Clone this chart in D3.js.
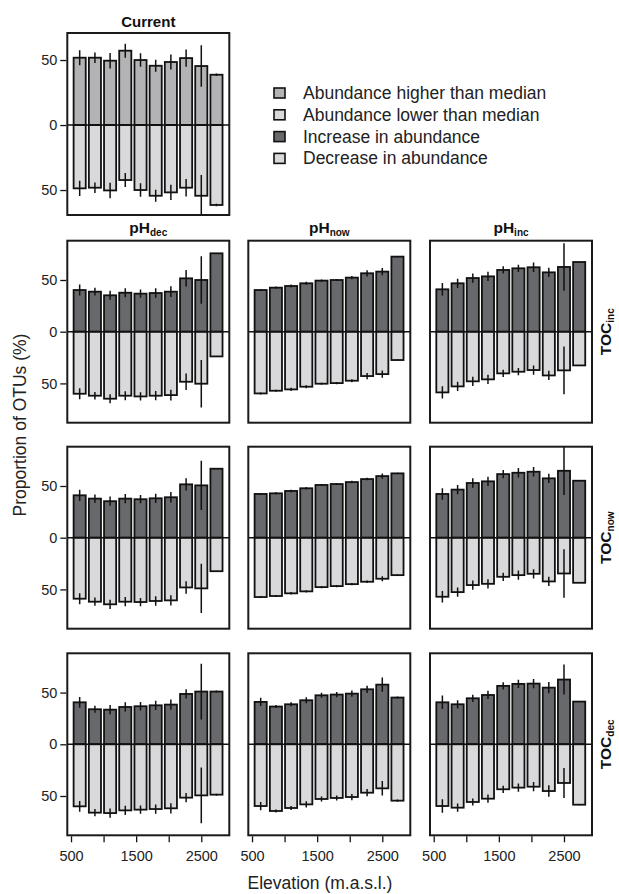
<!DOCTYPE html>
<html><head><meta charset="utf-8">
<script src="https://cdn.jsdelivr.net/npm/d3@7"></script>
<style>body{margin:0;background:#fff}svg{display:block;font-family:"Liberation Sans",Arial,Helvetica,sans-serif}</style>
</head><body><svg id="c" width="619" height="894"></svg>
<script>
const elevations = [633, 867, 1100, 1333, 1567, 1800, 2033, 2267, 2500, 2733];
const xTicks = [500, 1000, 1500, 2000, 2500];
const xTickLabels = ["500", "", "1500", "", "2500"];
const yTicks = [-50, 0, 50];

const currentHigher = [51.8, 51.8, 49.5, 57.2, 50, 45.6, 48.5, 51.5, 45.4, 38.7];
const currentLower  = [48.7, 48.2, 50.3, 42.3, 50, 54.4, 51.8, 48.2, 54.4, 61.5];
const currentErr    = [5.8, 4, 6, 5.4, 5.2, 4.7, 5.8, 6.7, 16, 1];

const colLabels = [["pH","dec"],["pH","now"],["pH","inc"]];
const rowLabels = [["TOC","inc"],["TOC","now"],["TOC","dec"]];

// increase / decrease / error per panel (row: TOC, col: pH)
const incTOCincPHdec = [40.3,38.7,35.2,37.7,36.8,37.4,38.7,51.6,50,75.8];
const decTOCincPHdec = [60,61.9,64.8,61.9,62.6,61.9,61.3,48.4,50.3,23.9];
const errTOCincPHdec = [5.3,3.7,4.4,4.4,4,4.5,5.2,8,23,0];
const incTOCincPHnow = [40.3,42.6,44.2,46.8,49.4,50,52.3,56.5,58.1,72.6];
const decTOCincPHnow = [59.7,57.1,55.8,53.2,50.3,49.7,47.4,42.9,41,27.4];
const errTOCincPHnow = [1,1,1.5,1.5,1,1,1.5,3,3.5,0.5];
const incTOCincPHinc = [41,46.8,51.9,53.5,59.7,61.3,62.3,57.4,62.6,67.4];
const decTOCincPHinc = [58.7,52.9,48,46.1,40.3,38.7,37.1,42.3,37.4,32.6];
const errTOCincPHinc = [6,4.5,4.5,4.5,3.5,3.5,4.5,4.5,23,0];
const incTOCnowPHdec = [41,37.8,35.3,37.8,37.2,38.1,39.1,51.6,50.6,66.7];
const decTOCnowPHdec = [59,61.9,64.4,61.9,62.2,61.2,60.6,48.1,49,32.4];
const errTOCnowPHdec = [5.4,4,4.5,4.5,4,4.5,5,6,23.7,0];
const incTOCnowPHnow = [42.3,42.9,45.2,47.8,51,51.9,53.8,56.7,59.6,62.2];
const decTOCnowPHnow = [57.4,56.4,53.8,51.9,47.8,46.8,44.9,42.6,39.7,36.2];
const errTOCnowPHnow = [1,1,1.2,1.2,1,1,1.2,1.2,2.5,0.5];
const incTOCnowPHinc = [42.3,46.5,52.9,54.5,61.5,62.8,63.8,57.4,64.7,55.1];
const decTOCnowPHinc = [57.1,52.6,45.8,44.6,37.8,36.2,34.9,42.3,34.6,43.6];
const errTOCnowPHinc = [5.6,4.5,4.5,4.5,4,4.5,4.5,4.5,23.4,0];
const incTOCdecPHdec = [40.6,33.9,33.5,36.1,36.8,37.7,38.4,48.7,51,51];
const decTOCdecPHdec = [60,66.1,66.5,63.9,63.2,62.6,61.9,51.6,49.4,48.7];
const errTOCdecPHdec = [5.2,3.5,4.5,4.5,4,4.5,5,4.5,27,1];
const incTOCdecPHnow = [41,36.5,38.7,42.6,47.4,48.1,49,53.2,57.7,45.2];
const decTOCdecPHnow = [59.7,64.5,61.6,58.1,52.9,51.9,51,46.8,42.6,54.5];
const errTOCdecPHnow = [4,1.5,2,3,2.5,2.5,3,3.5,7,1];
const incTOCdecPHinc = [40.6,38.7,44.5,47.7,56.5,58.4,58.7,54.8,62.6,41.3];
const decTOCdecPHinc = [59.7,61.3,55.8,52.6,43.5,41.9,41,45.2,37.4,58.4];
const errTOCdecPHinc = [6.5,4,3.5,4,3.5,4,4.5,5.5,14.5,0.5];

const legendLabels = ["Abundance higher than median","Abundance lower than median","Increase in abundance","Decrease in abundance"];
const legendColors = ["#b3b3b5","#d9d9db","#68696c","#d9d9db"];

const grid = [
  [[incTOCincPHdec,decTOCincPHdec,errTOCincPHdec],[incTOCincPHnow,decTOCincPHnow,errTOCincPHnow],[incTOCincPHinc,decTOCincPHinc,errTOCincPHinc]],
  [[incTOCnowPHdec,decTOCnowPHdec,errTOCnowPHdec],[incTOCnowPHnow,decTOCnowPHnow,errTOCnowPHnow],[incTOCnowPHinc,decTOCnowPHinc,errTOCnowPHinc]],
  [[incTOCdecPHdec,decTOCdecPHdec,errTOCdecPHdec],[incTOCdecPHnow,decTOCdecPHnow,errTOCdecPHnow],[incTOCdecPHinc,decTOCdecPHinc,errTOCdecPHinc]]
];

const svg = d3.select("#c");
const W = 162, H = 182;
const colX = [67.3, 248.3, 430];
const rowY = [240.7, 446.7, 653.3];
const barW = 186;
let clipId = 0;

function panel(x0, y0, h, ydom, up, down, err, upCol, downCol, opts) {
  const g = svg.append("g");
  const x = d3.scaleLinear().domain([443, 2930]).range([x0, x0 + W]);
  const y = d3.scaleLinear().domain(ydom).range([y0 + h, y0]);
  const id = "clip" + (clipId++);
  svg.append("clipPath").attr("id", id).append("rect")
    .attr("x", x0).attr("y", y0).attr("width", W).attr("height", h);
  const inner = g.append("g").attr("clip-path", `url(#${id})`);
  const bw = x(barW) - x(0);
  inner.selectAll(".up").data(up).join("rect")
    .attr("x", (d, i) => x(elevations[i]) - bw / 2).attr("width", bw)
    .attr("y", d => y(d)).attr("height", d => y(0) - y(d))
    .attr("fill", upCol).attr("stroke", "#111").attr("stroke-width", 1.8);
  inner.selectAll(".dn").data(down).join("rect")
    .attr("x", (d, i) => x(elevations[i]) - bw / 2).attr("width", bw)
    .attr("y", y(0)).attr("height", d => y(-d) - y(0))
    .attr("fill", downCol).attr("stroke", "#111").attr("stroke-width", 1.8);
  inner.selectAll(".eu").data(up).join("line")
    .attr("x1", (d, i) => x(elevations[i])).attr("x2", (d, i) => x(elevations[i]))
    .attr("y1", (d, i) => y(d - err[i])).attr("y2", (d, i) => y(d + err[i]))
    .attr("stroke", "#111").attr("stroke-width", 1.5);
  inner.selectAll(".ed").data(down).join("line")
    .attr("x1", (d, i) => x(elevations[i])).attr("x2", (d, i) => x(elevations[i]))
    .attr("y1", (d, i) => y(-d + err[i])).attr("y2", (d, i) => y(-d - err[i]))
    .attr("stroke", "#111").attr("stroke-width", 1.5);
  g.append("line").attr("x1", x0).attr("x2", x0 + W).attr("y1", y(0)).attr("y2", y(0))
    .attr("stroke", "#111").attr("stroke-width", 1.6);
  g.append("rect").attr("x", x0).attr("y", y0).attr("width", W).attr("height", h)
    .attr("fill", "none").attr("stroke", "#1a1a1a").attr("stroke-width", 2);
  if (opts.yAxis) {
    const ax = d3.axisLeft(y).tickValues(yTicks).tickSize(6).tickPadding(3)
      .tickFormat(d => Math.abs(d));
    const a = g.append("g").attr("transform", `translate(${x0 - 1},0)`).call(ax);
    a.select(".domain").remove();
    a.selectAll("line").attr("stroke", "#111").attr("stroke-width", 1.3);
    a.selectAll("text").attr("font-size", 14.5).attr("fill", "#222").attr("font-family", "Liberation Sans, Arial, sans-serif");
  }
  if (opts.xAxis) {
    const ax = d3.axisBottom(x).tickValues(xTicks).tickSize(6).tickPadding(8)
      .tickFormat((d, i) => xTickLabels[i]);
    const a = g.append("g").attr("transform", `translate(0,${y0 + h + 1})`).call(ax);
    a.select(".domain").remove();
    a.selectAll("line").attr("stroke", "#111").attr("stroke-width", 1.3);
    a.selectAll("text").attr("font-size", 14.5).attr("fill", "#222").attr("font-family", "Liberation Sans, Arial, sans-serif");
  }
}

// Current panel
panel(67.3, 33, 182, [-69.2, 70.8], currentHigher, currentLower, currentErr, legendColors[0], legendColors[1], {yAxis: true});
svg.append("text").attr("x", 67.3 + W / 2).attr("y", 27).attr("text-anchor", "middle")
  .attr("font-weight", "bold").attr("font-size", 15).attr("fill", "#111").text("Current");

for (let r = 0; r < 3; r++) {
  for (let c = 0; c < 3; c++) {
    const [inc, dec, err] = grid[r][c];
    panel(colX[c], rowY[r], H, [-88, 88], inc, dec, err, legendColors[2], legendColors[3],
      {yAxis: c === 0, xAxis: r === 2});
  }
}

// column titles
colLabels.forEach((l, c) => {
  const t = svg.append("text").attr("x", colX[c] + W / 2).attr("y", 232.5)
    .attr("text-anchor", "middle").attr("font-weight", "bold").attr("fill", "#111");
  t.append("tspan").attr("font-size", 15.5).text(l[0]);
  t.append("tspan").attr("font-size", 10).attr("dy", 3).text(l[1]);
});
// row labels
rowLabels.forEach((l, r) => {
  const t = svg.append("text")
    .attr("transform", `translate(611,${rowY[r] + H / 2}) rotate(-90)`)
    .attr("text-anchor", "middle").attr("font-weight", "bold").attr("fill", "#111");
  t.append("tspan").attr("font-size", 15.5).text(l[0]);
  t.append("tspan").attr("font-size", 10).attr("dy", 3).text(l[1]);
});

// legend
const lg = svg.append("g");
legendLabels.forEach((l, i) => {
  const cy = 93 + i * 21.8;
  lg.append("rect").attr("x", 274).attr("y", cy - 5).attr("width", 11).attr("height", 10)
    .attr("fill", legendColors[i]).attr("stroke", "#111").attr("stroke-width", 1.6);
  lg.append("text").attr("x", 303).attr("y", cy + 6).attr("font-size", 17.5).attr("fill", "#222").text(l);
});

// axis titles
svg.append("text").attr("transform", "translate(26,425) rotate(-90)").attr("text-anchor", "middle")
  .attr("font-size", 17.5).attr("fill", "#222").text("Proportion of OTUs (%)");
svg.append("text").attr("x", 320).attr("y", 889).attr("text-anchor", "middle")
  .attr("font-size", 17.5).attr("fill", "#222").text("Elevation (m.a.s.l.)");
</script></body></html>
